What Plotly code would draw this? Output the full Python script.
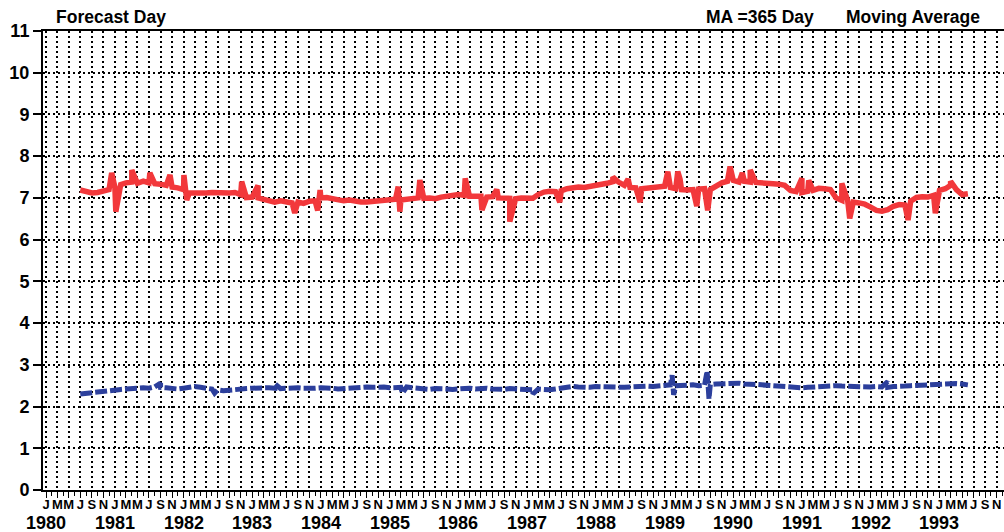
import pandas as pd
import plotly.graph_objects as go

month_letters = ["J", "M", "M", "J", "S", "N"]
years = list(range(1980, 1994))

# monthly values (first of month), Jul 1980 .. Jun 1993
red_start = "1980-07-01"
red_values = [
    7.19, 7.14, 7.12, 7.13, 7.16, 7.20,
    7.26, 7.32, 7.36, 7.38, 7.35, 7.40, 7.36, 7.34, 7.33, 7.30, 7.26, 7.24,
    7.20, 7.12, 7.11, 7.10, 7.12, 7.13, 7.12, 7.10, 7.12, 7.13, 7.08, 7.01,
    7.02, 7.00, 6.97, 6.92, 6.90, 6.93, 6.90, 6.88, 6.90, 6.87, 6.92, 6.93,
    7.00, 7.01, 6.98, 6.95, 6.93, 6.95, 6.92, 6.90, 6.90, 6.91, 6.93, 6.95,
    6.95, 6.97, 6.95, 6.96, 6.98, 7.00, 6.99, 7.00, 6.98, 7.02, 7.05, 7.07,
    7.08, 7.06, 7.04, 7.03, 7.04, 7.02, 7.03, 7.00, 7.01, 6.99, 6.98, 7.00,
    6.98, 6.99, 7.08, 7.14, 7.16, 7.15, 7.17, 7.22, 7.25, 7.26, 7.25, 7.27,
    7.28, 7.30, 7.35, 7.39, 7.38, 7.30, 7.25, 7.24, 7.22, 7.24, 7.27, 7.26,
    7.28, 7.25, 7.22, 7.20, 7.19, 7.20, 7.21, 7.22, 7.20, 7.28, 7.36, 7.40,
    7.42, 7.38, 7.40, 7.38, 7.37, 7.35, 7.36, 7.34, 7.33, 7.30, 7.18, 7.15,
    7.13, 7.16, 7.18, 7.23, 7.22, 7.20, 7.00, 6.94, 6.94, 6.90, 6.88, 6.85,
    6.78, 6.70, 6.68, 6.72, 6.80, 6.84, 6.83, 6.92, 7.01, 7.03, 7.02, 7.06,
    7.18, 7.22, 7.30, 7.20, 7.08, 7.10,
]
red_spike_dates = [
    "1980-12-15", "1981-01-06", "1981-04-01", "1981-07-06", "1981-10-21",
    "1982-01-03", "1982-01-18", "1982-11-06", "1983-02-01", "1983-08-15",
    "1983-12-15", "1983-12-28", "1985-02-15", "1985-02-24", "1985-06-10",
    "1986-02-06", "1986-05-06", "1986-07-24", "1986-10-01", "1987-06-24",
    "1988-04-01", "1988-06-21", "1988-08-24", "1989-01-18", "1989-03-12",
    "1989-03-24", "1989-06-21", "1989-08-18", "1989-12-15", "1990-02-18",
    "1990-04-01", "1991-01-01", "1991-02-06", "1991-08-01", "1991-09-12",
    "1992-07-18", "1992-12-10", "1993-03-01",
]
red_spike_values = [
    7.60, 6.67, 7.67, 7.60, 7.55,
    7.55, 6.95, 7.39, 7.30, 6.64,
    6.70, 7.19, 7.27, 6.67, 7.43,
    7.47, 6.71, 7.20, 6.43, 6.90,
    7.50, 7.45, 6.90, 7.63, 7.63,
    7.45, 6.80, 6.70, 7.75, 7.60,
    7.67, 7.47, 7.42, 7.35, 6.51,
    6.47, 6.63, 7.40,
]

blue_start = "1980-07-01"
blue_values = [
    2.30, 2.32, 2.34, 2.36, 2.38, 2.38,
    2.40, 2.41, 2.42, 2.44, 2.46, 2.45, 2.44, 2.47, 2.46, 2.45, 2.43, 2.42,
    2.44, 2.47, 2.48, 2.46, 2.45, 2.42, 2.40, 2.38, 2.40, 2.42, 2.44, 2.43,
    2.44, 2.45, 2.46, 2.45, 2.44, 2.43, 2.44, 2.46, 2.45, 2.44, 2.43, 2.44,
    2.45, 2.46, 2.44, 2.42, 2.43, 2.45, 2.47, 2.48, 2.47, 2.46, 2.48, 2.47,
    2.45, 2.44, 2.46, 2.47, 2.45, 2.44, 2.42, 2.41, 2.43, 2.44, 2.42, 2.41,
    2.43, 2.45, 2.44, 2.42, 2.43, 2.44, 2.42, 2.40, 2.41, 2.43, 2.42, 2.40,
    2.39, 2.40, 2.42, 2.41, 2.40, 2.42, 2.44, 2.46, 2.48, 2.47, 2.45, 2.46,
    2.48, 2.47, 2.46, 2.45, 2.44, 2.46, 2.47, 2.48, 2.50, 2.49, 2.48, 2.50,
    2.51, 2.52, 2.50, 2.49, 2.51, 2.52, 2.50, 2.51, 2.53, 2.54, 2.55, 2.54,
    2.55, 2.56, 2.54, 2.55, 2.53, 2.52, 2.51, 2.50, 2.48, 2.46, 2.45, 2.46,
    2.45, 2.46, 2.47, 2.48, 2.50, 2.51, 2.50, 2.49, 2.48, 2.50, 2.49, 2.48,
    2.47, 2.48, 2.47, 2.46, 2.48, 2.50, 2.49, 2.50, 2.51, 2.52, 2.53, 2.52,
    2.54, 2.55, 2.56, 2.55, 2.54, 2.52,
]
blue_spike_dates = [
    "1981-09-01", "1982-06-15", "1983-05-01", "1985-03-10", "1987-02-01",
    "1989-02-10", "1989-02-18", "1989-08-15", "1989-08-25", "1992-04-01",
]
blue_spike_values = [
    2.56, 2.32, 2.55, 2.32, 2.30,
    2.75, 2.28, 2.85, 2.18, 2.60,
]


def build(start, values, spike_dates, spike_values):
    base = pd.Series(values, index=pd.date_range(start, periods=len(values), freq="MS"))
    spikes = pd.Series(spike_values, index=pd.to_datetime(spike_dates))
    return pd.concat([base, spikes]).sort_index()


red = build(red_start, red_values, red_spike_dates, red_spike_values)
blue = build(blue_start, blue_values, blue_spike_dates, blue_spike_values)

fig = go.Figure()
fig.add_trace(go.Scatter(x=red.index, y=red.values, mode="lines",
                         line=dict(color="#f2383b", width=5.5)))
fig.add_trace(go.Scatter(x=blue.index, y=blue.values, mode="lines",
                         line=dict(color="#2c3f9c", width=5, dash="12px,3px")))

tick_dates = pd.date_range("1980-01-01", "1993-11-01", freq="2MS")
tick_text = [month_letters[i % 6] for i in range(len(tick_dates))]

font = "Liberation Sans, Arial, Helvetica, sans-serif"

fig.update_xaxes(
    type="date", range=["1979-12-16", "1993-12-10"],
    tickmode="array", tickvals=tick_dates, ticktext=tick_text, tickangle=0,
    ticks="outside", ticklen=6, tickwidth=1, tickcolor="black",
    tickfont=dict(family=font, size=13, color="black", weight="bold"),
    ticklabelstandoff=-5,
    showgrid=True, gridcolor="black", gridwidth=2, griddash="2px,3px",
    showline=True, linecolor="black", linewidth=2, mirror=True,
    minor=dict(dtick="M1", tick0="1980-01-01", ticks="outside", ticklen=4,
               tickcolor="black", showgrid=False),
    zeroline=False, automargin=False,
)
fig.update_yaxes(
    range=[0, 11], tickmode="linear", tick0=0, dtick=1,
    ticks="outside", ticklen=8, tickwidth=1.5, tickcolor="black",
    tickfont=dict(family=font, size=18, color="black", weight="bold"),
    showgrid=True, gridcolor="black", gridwidth=2, griddash="2px,3px",
    showline=True, linecolor="black", linewidth=2,
    zeroline=False, automargin=False,
)

annotations = [
    dict(x=f"{y}-01-01", y=-(523 - 490) / (490 - 31), xref="x", yref="paper", text=str(y),
         showarrow=False, xanchor="center", yanchor="middle",
         font=dict(family=font, size=18, color="black", weight="bold"))
    for y in years
]
annotations += [
    dict(x=54, y=17, text="Forecast Day", showarrow=False),
    dict(x=704, y=17, text="MA =365 Day", showarrow=False),
    dict(x=844, y=17, text="Moving Average", showarrow=False),
]
for a in annotations[-3:]:
    a.update(xref="paper", yref="paper", xanchor="left", yanchor="middle",
             font=dict(family=font, size=17.5, color="black", weight="bold"))
    a["x"] = (a["x"] - 43) / (1004 - 43)
    a["y"] = 1 + (31 - a["y"]) / (490 - 31)

fig.update_layout(
    width=1004, height=532,
    margin=dict(l=43, r=0, t=31, b=42, autoexpand=False),
    paper_bgcolor="white", plot_bgcolor="white",
    showlegend=False,
    annotations=annotations,
)

fig.write_html("out.html", config={"displayModeBar": False},
               post_script="document.body.style.margin='0px';")
